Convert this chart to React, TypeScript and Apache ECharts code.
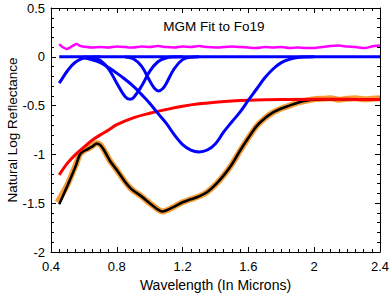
import React, { useEffect, useRef } from "react";
import * as echarts from "echarts";

// ---- data ----
const magentaX = [0.45, 0.47, 0.495, 0.52, 0.556, 0.58, 0.617, 0.65, 0.7, 0.75, 0.8, 0.85, 0.9, 0.95, 1.0, 1.05, 1.1, 1.15, 1.2, 1.25, 1.3, 1.35, 1.4, 1.45, 1.5, 1.55, 1.6, 1.65, 1.7, 1.75, 1.8, 1.85, 1.9, 1.95, 2.0, 2.05, 2.1, 2.15, 2.2, 2.25, 2.31, 2.35, 2.4];
const magentaY = [0.13, 0.1, 0.08, 0.1, 0.13, 0.11, 0.1, 0.095, 0.1, 0.095, 0.105, 0.1, 0.095, 0.105, 0.1, 0.11, 0.1, 0.095, 0.105, 0.1, 0.11, 0.1, 0.095, 0.1, 0.105, 0.1, 0.095, 0.09, 0.1, 0.095, 0.1, 0.09, 0.095, 0.09, 0.09, 0.1, 0.11, 0.115, 0.105, 0.1, 0.09, 0.105, 0.115];

const zeroX = [0.45, 2.4];
const zeroY = [0, 0];

const bandAX = [0.45, 0.475, 0.5, 0.525, 0.55, 0.575, 0.6, 0.65, 0.7];
const bandAY = [-0.27, -0.205, -0.143, -0.091, -0.053, -0.028, -0.013, -0.002, 0];

const bandBX = [0.6, 0.65, 0.7, 0.75, 0.8, 0.85, 0.88, 0.9, 0.95, 1.0, 1.05, 1.1, 1.15, 1.2];
const bandBY = [-0.002, -0.009, -0.039, -0.124, -0.27, -0.407, -0.435, -0.422, -0.302, -0.149, -0.051, -0.012, -0.002, 0];

const bandCX = [0.85, 0.9, 0.95, 1.0, 1.03, 1.055, 1.08, 1.1, 1.15, 1.2, 1.25, 1.3];
const bandCY = [-0.003, -0.02, -0.095, -0.245, -0.325, -0.35, -0.325, -0.275, -0.12, -0.029, -0.004, 0];

const bandDX = [0.6, 0.65, 0.7, 0.75, 0.8, 0.85, 0.9, 0.95, 1.0, 1.05, 1.1, 1.15, 1.2, 1.25, 1.3, 1.35, 1.4, 1.45, 1.5, 1.55, 1.6, 1.65, 1.7, 1.75, 1.8, 1.85, 1.9, 1.95, 2.0];
const bandDY = [-0.01, -0.03, -0.06, -0.11, -0.167, -0.23, -0.3, -0.385, -0.475, -0.58, -0.68, -0.8, -0.9, -0.955, -0.975, -0.955, -0.89, -0.77, -0.665, -0.565, -0.445, -0.33, -0.215, -0.125, -0.06, -0.025, -0.008, -0.002, 0];

const contX = [0.45, 0.5, 0.55, 0.6, 0.65, 0.7, 0.75, 0.8, 0.9, 1.0, 1.1, 1.2, 1.3, 1.4, 1.5, 1.6, 1.8, 2.0, 2.2, 2.4];
const contY = [-1.21, -1.09, -1.0, -0.925, -0.855, -0.8, -0.75, -0.695, -0.625, -0.578, -0.54, -0.507, -0.482, -0.465, -0.452, -0.445, -0.438, -0.435, -0.436, -0.438];

const fitX = [0.45, 0.5, 0.55, 0.576, 0.6, 0.62, 0.65, 0.678, 0.7, 0.72, 0.76, 0.8, 0.85, 0.88, 0.9, 0.95, 1.0, 1.05, 1.075, 1.1, 1.15, 1.2, 1.25, 1.3, 1.35, 1.4, 1.45, 1.5, 1.55, 1.6, 1.65, 1.7, 1.75, 1.8, 1.85, 1.9, 1.95, 2.0, 2.1, 2.2, 2.3, 2.4];
const fitY = [-1.51, -1.32, -1.12, -1.0, -0.965, -0.95, -0.92, -0.89, -0.905, -0.95, -1.07, -1.16, -1.28, -1.34, -1.37, -1.43, -1.5, -1.565, -1.585, -1.575, -1.535, -1.49, -1.46, -1.43, -1.385, -1.31, -1.215, -1.1, -0.96, -0.83, -0.71, -0.63, -0.57, -0.53, -0.5, -0.47, -0.45, -0.44, -0.435, -0.435, -0.436, -0.438];

const dataX = [0.44, 0.5, 0.55, 0.576, 0.6, 0.62, 0.65, 0.678, 0.7, 0.72, 0.76, 0.8, 0.85, 0.88, 0.9, 0.95, 1.0, 1.05, 1.075, 1.1, 1.15, 1.2, 1.25, 1.3, 1.35, 1.4, 1.45, 1.5, 1.55, 1.6, 1.65, 1.7, 1.75, 1.8, 1.85, 1.9, 1.95, 2.0, 2.05, 2.1, 2.15, 2.2, 2.25, 2.3, 2.35, 2.4];
const dataY = [-1.49, -1.31, -1.11, -1.0, -0.96, -0.945, -0.915, -0.885, -0.9, -0.95, -1.07, -1.16, -1.28, -1.34, -1.37, -1.43, -1.5, -1.565, -1.585, -1.575, -1.535, -1.49, -1.46, -1.43, -1.385, -1.31, -1.215, -1.1, -0.96, -0.83, -0.71, -0.63, -0.57, -0.53, -0.5, -0.47, -0.45, -0.435, -0.43, -0.425, -0.44, -0.43, -0.425, -0.435, -0.43, -0.425];

const xTicks = [0.4, 0.8, 1.2, 1.6, 2, 2.4];
const yTicks = [-2, -1.5, -1, -0.5, 0, 0.5];

const titleText = "MGM Fit to Fo19";
const xName = "Wavelength (In Microns)";
const yName = "Natural Log Reflectance";

const FONT = "'Liberation Sans', Arial, Helvetica, sans-serif";

const pairs = (xs: number[], ys: number[]) => xs.map((x, i) => [x, ys[i]]);

export default function App() {
  const ref = useRef<HTMLDivElement>(null);
  useEffect(() => {
    if (!ref.current) return;
    const chart = echarts.init(ref.current, undefined, { renderer: "svg" });
    const axisCommon = {
      type: "value" as const,
      axisLine: { show: true, onZero: false, lineStyle: { color: "#000", width: 1 } },
      axisTick: { show: true, inside: true, length: 5, lineStyle: { color: "#000" } },
      minorTick: { show: true, length: 3, lineStyle: { color: "#000" } },
      splitLine: { show: false },
      minorSplitLine: { show: false },
    };
    const fmt = (v: number) => {
      const r = Math.round(v * 10) / 10;
      return String(r);
    };
    const line = (name: string, xs: number[], ys: number[], color: string, width: number, smooth: number | boolean = 0.3) => ({
      name,
      type: "line" as const,
      data: pairs(xs, ys),
      showSymbol: false,
      symbol: "none",
      smooth,
      lineStyle: { color, width },
      itemStyle: { color },
      z: 2,
    });
    chart.setOption({
      animation: false,
      backgroundColor: "#fff",
      graphic: [
        {
          type: "text",
          x: 214,
          y: 26,
          z: 10,
          style: {
            text: titleText,
            fontFamily: FONT,
            fontSize: 13.5,
            fill: "#000",
            textAlign: "center",
            textVerticalAlign: "middle",
          },
        },
        {
          type: "text",
          x: 12,
          y: 130,
          rotation: Math.PI / 2,
          z: 10,
          style: {
            text: yName,
            fontFamily: FONT,
            fontSize: 13.5,
            fill: "#000",
            textAlign: "center",
            textVerticalAlign: "middle",
          },
        },
      ],
      grid: { left: 51, right: 12, top: 8, bottom: 46, containLabel: false, outerBoundsMode: "none" },
      xAxis: [
        {
          ...axisCommon,
          position: "bottom",
          min: xTicks[0],
          max: xTicks[xTicks.length - 1],
          interval: 0.4,
          minorTick: { ...axisCommon.minorTick, splitNumber: 8 },
          axisLabel: { show: true, margin: 8, color: "#000", fontFamily: FONT, fontSize: 13, formatter: fmt },
          name: xName,
          nameLocation: "middle",
          nameGap: 26,
          nameTextStyle: { fontFamily: FONT, fontSize: 14, color: "#000" },
        },
        {
          ...axisCommon,
          position: "top",
          min: xTicks[0],
          max: xTicks[xTicks.length - 1],
          interval: 0.4,
          minorTick: { ...axisCommon.minorTick, splitNumber: 8 },
          axisLabel: { show: false },
        },
      ],
      yAxis: [
        {
          ...axisCommon,
          position: "left",
          min: yTicks[0],
          max: yTicks[yTicks.length - 1],
          interval: 0.5,
          minorTick: { ...axisCommon.minorTick, splitNumber: 5 },
          axisLabel: { show: true, margin: 6, color: "#000", fontFamily: FONT, fontSize: 13, formatter: fmt },
        },
        {
          ...axisCommon,
          position: "right",
          min: yTicks[0],
          max: yTicks[yTicks.length - 1],
          interval: 0.5,
          minorTick: { ...axisCommon.minorTick, splitNumber: 5 },
          axisLabel: { show: false },
        },
      ],
      series: [
        { ...line("data", dataX, dataY, "#f6962a", 6, 0.2), lineStyle: { color: "#f6962a", width: 6, opacity: 0.95 } },
        line("fit", fitX, fitY, "#000000", 2.6, 0.3),
        line("residual", magentaX, magentaY, "#ff00ff", 2.5, 0.2),
        line("continuum", contX, contY, "#ff0000", 3, 0.4),
        line("zero", zeroX, zeroY, "#0000ff", 3, false),
        line("band1", bandAX, bandAY, "#0000ff", 3, 0.4),
        line("band2", bandBX, bandBY, "#0000ff", 3, 0.4),
        line("band3", bandCX, bandCY, "#0000ff", 3, 0.4),
        line("band4", bandDX, bandDY, "#0000ff", 3, 0.4),
      ],
    });
    return () => chart.dispose();
  }, []);
  return <div ref={ref} style={{ width: 392, height: 298, position: "absolute", left: 0, top: 0 }} />;
}
